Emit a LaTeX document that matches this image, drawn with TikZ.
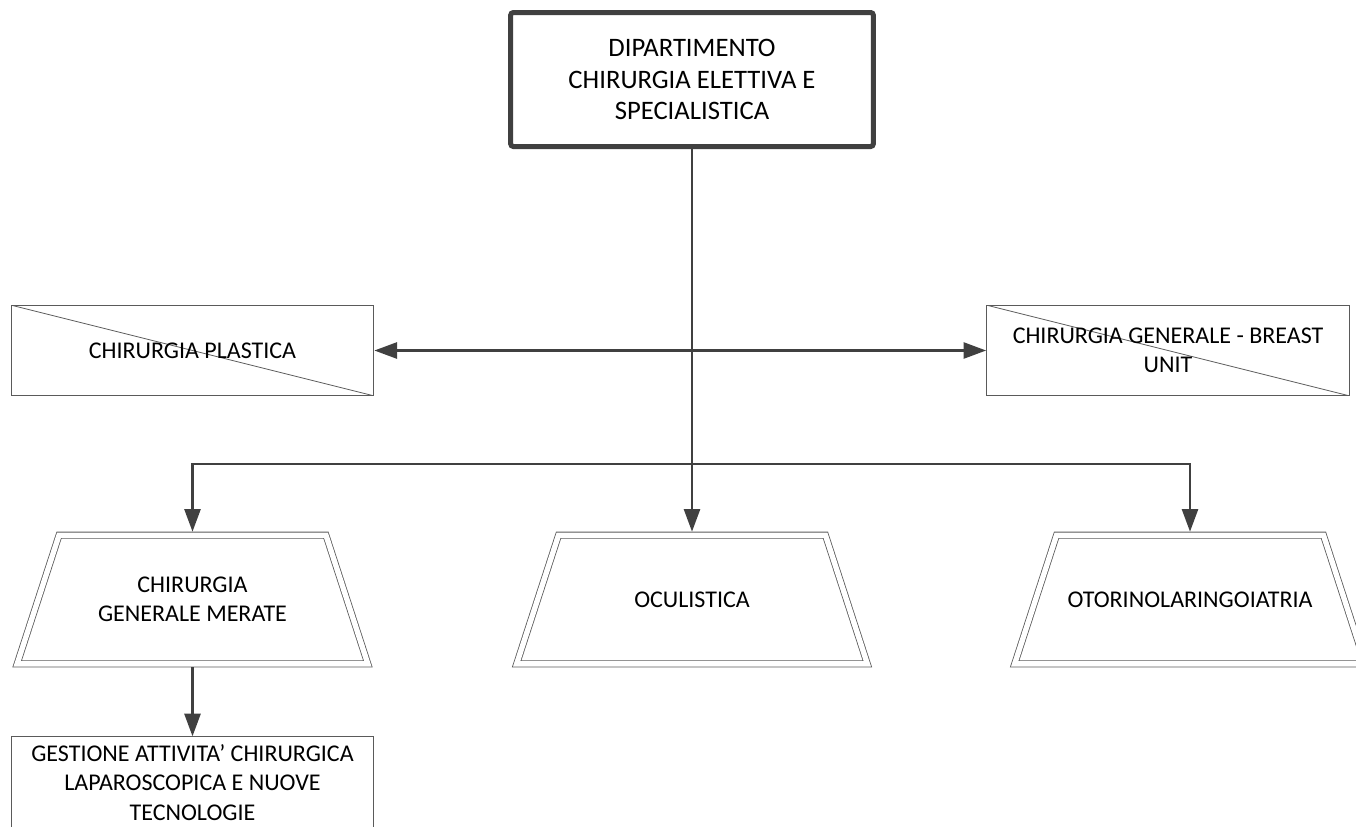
\documentclass[tikz,border=0pt]{standalone}
\usepackage{fontspec}
\setmainfont{Carlito}
\usetikzlibrary{arrows.meta}
\definecolor{lnclr}{RGB}{64,64,64}
\definecolor{bxclr}{RGB}{90,90,90}

\tikzset{
  every node/.style={font=\fontsize{18}{22}\selectfont, align=center, text=black},
  crossbox/.style={draw=bxclr, line width=0.75pt, minimum width=272pt, minimum height=68pt,
    path picture={\draw[bxclr, line width=0.6pt] (path picture bounding box.north west) -- (path picture bounding box.south east);}},
  unitbox/.style={outer sep=0pt, minimum width=263pt, minimum height=96.5pt},
  trapline/.style={draw=bxclr, line width=0.6pt, double, double distance=4pt},
  conn/.style={draw=lnclr, line width=2pt, -{Triangle[length=17pt,width=12pt]}},
}

\begin{document}
\begin{tikzpicture}[x=0.75pt,y=0.75pt,yscale=-1,xscale=1]
\useasboundingbox (0,0) rectangle (1356,826);

%Shape: department
\node (dip) [draw=lnclr, line width=3.75pt, rounded corners=2pt, minimum width=272pt, minimum height=100.5pt, font=\fontsize{20}{23.6}\selectfont] at (692,79.5) {DIPARTIMENTO\\CHIRURGIA ELETTIVA E\\SPECIALISTICA};

%Shape: crossed boxes
\node (plastica) [crossbox] at (192.5,350.5) {CHIRURGIA PLASTICA};
\node (breast) [crossbox] at (1168,350.5) {CHIRURGIA GENERALE - BREAST\\UNIT};

%Shape: trapezia
\node (merate) [unitbox] at (192.5,599.5) {CHIRURGIA\\GENERALE MERATE};
\node (ocul) [unitbox] at (692,599.5) {OCULISTICA};
\node (orl) [unitbox] at (1190,599.5) {OTORINOLARINGOIATRIA};
\foreach \u in {merate,ocul,orl}
  \draw [trapline] ([xshift=31.4pt]\u.north west) -- ([xshift=-31.4pt]\u.north east) -- (\u.south east) -- (\u.south west) -- cycle;

%Shape: bottom box
\node (gestione) [draw=bxclr, line width=0.75pt, minimum width=272pt, minimum height=68.5pt] at (192.5,782.5) {GESTIONE ATTIVITA’ CHIRURGICA\\LAPAROSCOPICA E NUOVE\\TECNOLOGIE};

%Connections
\coordinate (mid) at (692,350.5);
\coordinate (bus) at (692,464);
\draw [conn, shorten >=2.6pt] (dip.south) -- (ocul.north);
\draw [conn] (mid) -- (plastica.east);
\draw [conn] (mid) -- (breast.west);
\draw [conn, shorten >=2.6pt] (bus) -| (merate.north);
\draw [conn, shorten >=2.6pt] (bus) -| (orl.north);
\draw [conn, shorten <=2.6pt] (merate.south) -- (gestione.north);

\end{tikzpicture}
\end{document}
